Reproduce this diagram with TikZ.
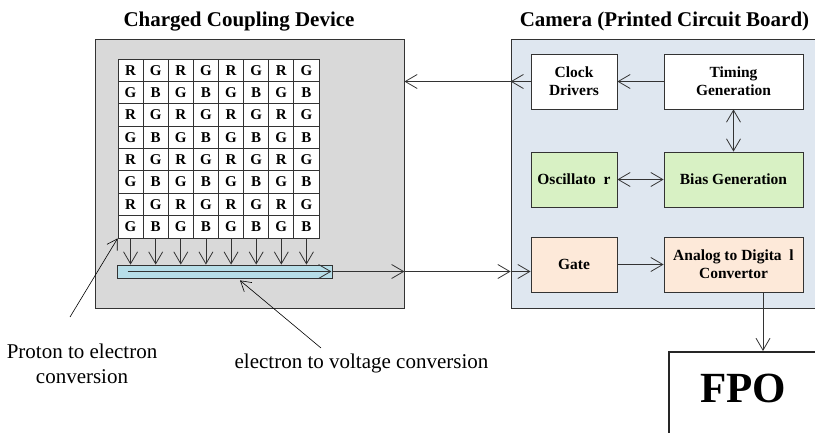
\documentclass[tikz,border=0pt]{standalone}
\usepackage{fontspec}
\setmainfont{Liberation Serif}
\usetikzlibrary{arrows.meta,positioning}

\definecolor{ccdgray}{HTML}{D9D9D9}
\definecolor{pcbblue}{HTML}{DFE7F0}
\definecolor{oscgreen}{HTML}{D8F1C4}
\definecolor{adcpeach}{HTML}{FDE9D9}
\definecolor{regblue}{HTML}{B7DEE8}
\definecolor{linegray}{HTML}{333333}

\tikzset{
    blk/.style={draw=linegray,line width=0.8pt,minimum width=86pt,minimum height=55pt,inner sep=0pt,align=center,font=\fontsize{15.5}{18}\selectfont\bfseries},
    wideblk/.style={blk,minimum width=139pt},
    cell/.style={draw=linegray,fill=white,line width=0.8pt,minimum width=25.125pt,minimum height=22.375pt,inner sep=0pt,font=\fontsize{15}{15}\selectfont\bfseries},
    sig/.style={draw=linegray,line width=0.8pt,-{Straight Barb[length=12pt,width=14pt]}},
    dsig/.style={sig,{Straight Barb[length=12pt,width=14pt]}-{Straight Barb[length=12pt,width=14pt]}},
    ptr/.style={draw=black,line width=0.6pt,-{Straight Barb[length=10pt,width=12pt]}},
    ttl/.style={font=\fontsize{21}{24}\selectfont\bfseries},
    lbl/.style={font=\fontsize{21}{25}\selectfont,align=center},
}

\begin{document}
\begin{tikzpicture}[x=1pt,y=-1pt]
    \clip (0,0) rectangle (815,433);

    \node[ttl,anchor=base] (ccdtitle) at (239,26.5) {Charged Coupling Device};
    \node[ttl,anchor=base] (pcbtitle) at (664.5,26.5) {Camera (Printed Circuit Board)};

    \node[draw=linegray,fill=ccdgray,line width=0.8pt,minimum width=309pt,minimum height=269pt] (ccd) at (249.5,173.5) {};
    \node[draw=linegray,fill=pcbblue,line width=0.8pt,minimum width=319pt,minimum height=269pt] (pcb) at (670.5,173.5) {};

    % colour filter array
    \foreach \r in {0,...,7}{
        \foreach \c in {0,...,7}{
            \pgfmathtruncatemacro{\k}{mod(\r,2)*2+mod(\c,2)}
            \node[cell] (px\r\c) at ({130.5625+25.125*\c},{70.1875+22.375*\r}) {\ifcase\k R\or G\or G\or B\fi};
        }
    }

    \node[draw=linegray,fill=regblue,line width=0.8pt,minimum width=215pt,minimum height=13pt,inner sep=0pt] (reg) at (224.5,271.5) {};
    \foreach \c in {0,...,7}
        \draw[sig] (px7\c.south) -- (px7\c.south |- reg.north);
    \draw[sig] ([xshift=11pt]reg.west) -- ([xshift=-1pt]reg.east);

    \node[blk,fill=white] (clk) at (574,81.5) {Clock\\Drivers};
    \node[wideblk,fill=white] (tim) at (733.5,81.5) {Timing\\Generation};
    \node[blk,fill=oscgreen] (osc) at (574,179.5) {Oscillato\ \ r};
    \node[wideblk,fill=oscgreen] (bias) at (733.5,179.5) {Bias Generation};
    \node[blk,fill=adcpeach] (gate) at (574,264.5) {Gate};
    \node[wideblk,fill=adcpeach] (adc) at (733.5,264.5) {Analog to Digita\ \ l\\Convertor};

    \node[draw=black!85,line width=2.4pt,minimum width=200pt,minimum height=150pt,anchor=north west] (fpo) at (668,351) {};
    \node[font=\fontsize{43}{43}\selectfont\bfseries,anchor=base] (fpotext) at (743,402) {FPO};

    \coordinate (ccdout) at (ccd.east |- reg.east);
    \coordinate (pcbin) at (pcb.west |- reg.east);
    \draw[sig] (reg.east) -- (ccdout);
    \draw[sig] (ccdout) -- (pcbin);
    \draw[sig] (pcbin) -- (pcbin -| gate.west);

    \coordinate (clkout) at (pcb.west |- clk.west);
    \draw[sig] (clk.west) -- (clkout);
    \draw[sig] (clkout) -- (clkout -| ccd.east);

    \draw[sig] (tim) -- (clk);
    \draw[dsig] (tim) -- (bias);
    \draw[dsig] (osc) -- (bias);
    \draw[sig] (gate) -- (adc);
    \coordinate (adcout) at ([xshift=29.5pt]adc.south);
    \draw[sig] (adcout) -- (adcout |- fpo.north);

    \node[lbl] (proton) at (82,364) {Proton to electron\\conversion};
    \node[lbl,anchor=base] (voltage) at (361.5,368) {electron to voltage conversion};
    \coordinate (protonfrom) at (70,317);
    \coordinate (voltagefrom) at (321,348);
    \draw[ptr] (protonfrom) -- (px70.south west);
    \draw[ptr] (voltagefrom) -- ([xshift=15.5pt,yshift=-2pt]reg.south);
\end{tikzpicture}
\end{document}
